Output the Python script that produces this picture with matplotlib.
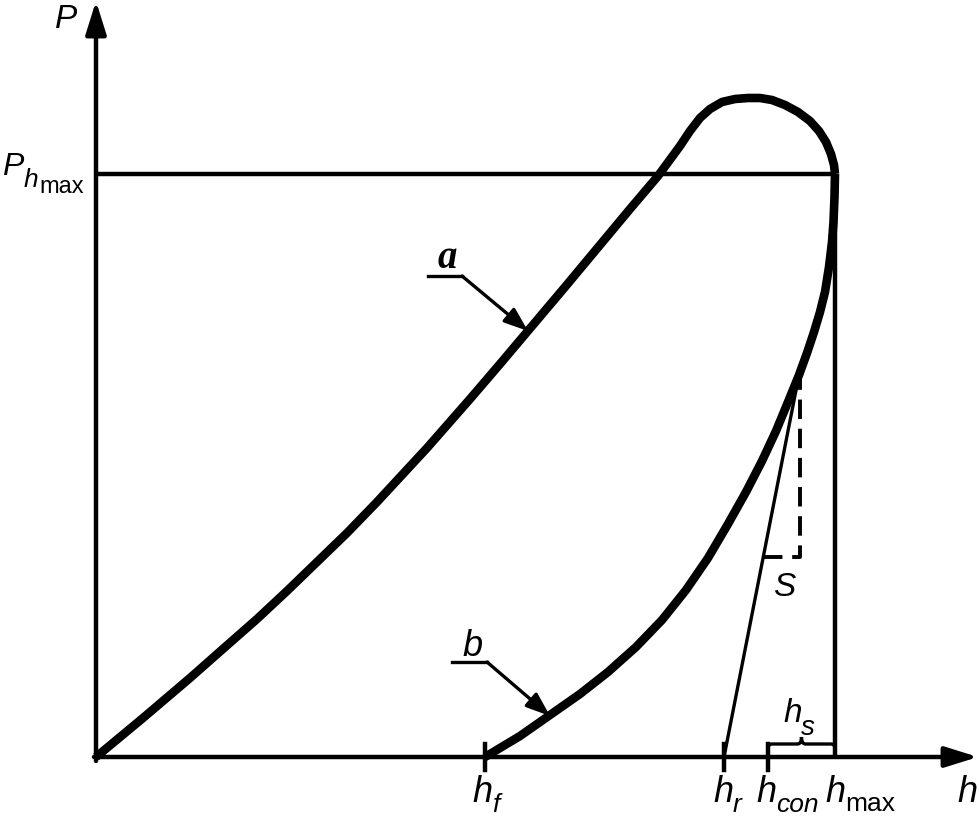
import numpy as np
import matplotlib.pyplot as plt
from matplotlib.path import Path
from matplotlib.patches import PathPatch

plt.rcParams['font.family'] = 'Liberation Sans'

## key depths and load
h_f = 389
h_r = 628
h_con = 672
h_max = 739
P_hmax = 583

## loading curve a (h, P)
load_h = [0, 47, 94, 128, 161, 191, 221, 251, 281, 306, 331, 374, 404, 431,
          469, 504, 534, 562, 584, 594, 604, 614, 626, 639, 652, 664, 676,
          689, 702, 714, 723, 730, 735, 738, 739]
load_P = [0, 39, 79, 109, 138, 166, 195, 224, 255, 282, 309, 358, 393, 425,
          470, 512, 548, 581, 611, 626, 639, 648, 655, 658, 659, 659, 657,
          652, 645, 636, 626, 615, 603, 592, 583]

## unloading curve b (h, P)
unload_h = [739, 738.5, 737.5, 736, 733, 729, 724, 718, 711, 703, 692, 680,
            666, 650, 632, 612, 590, 566, 540, 512, 484, 454, 424, 389]
unload_P = [583, 560, 535, 515, 490, 465, 445, 425, 404, 382, 355, 326,
            296, 265, 233, 199, 167, 137, 110, 85, 63, 42, 21, 0]

## contact stiffness S: tangent from h_r to the touching point
S_touch_h = 703
S_touch_P = 382
S_step_P = 200

fig = plt.figure(figsize=(9.8, 8.2), dpi=100)
ax = fig.add_axes([0, 0, 1, 1])
ax.set_xlim(-96, 884)
ax.set_ylim(-62, 758)
ax.axis('off')

k = 'black'
head = dict(arrowstyle='-|>,head_length=0.8,head_width=0.25',
            mutation_scale=25, lw=3.2, color=k, shrinkA=0, shrinkB=0)

# axes with arrows
ax.annotate('', xy=(0, 756), xytext=(0, -4), arrowprops=head)
ax.annotate('', xy=(882, 0), xytext=(-2, 0), arrowprops=head)

# P_hmax and h_max guide lines
ax.plot([0, h_max], [P_hmax, P_hmax], color=k, lw=3.2, solid_capstyle='butt')
ax.plot([h_max, h_max], [0, P_hmax], color=k, lw=3.2, solid_capstyle='butt')

# curves
ax.plot(load_h, load_P, color=k, lw=6.2, solid_capstyle='butt', solid_joinstyle='round')
ax.plot(unload_h, unload_P, color=k, lw=6.2, solid_capstyle='butt', solid_joinstyle='round')

# tangent line and stiffness triangle
slope = (S_touch_h - h_r) / S_touch_P
ax.plot([h_r, S_touch_h], [0, S_touch_P], color=k, lw=2.4)
S_left = h_r + S_step_P * slope
S_right = S_touch_h + 1
ax.plot([S_left, S_right, S_right], [S_step_P, S_step_P, S_touch_P], color=k,
        lw=2.8, dashes=(5, 2.5))
ax.text(677, 162, 'S', fontsize=24, style='italic', ha='left', va='baseline')

# ticks on h axis
for xv in [h_f, h_r, h_con]:
    ax.plot([xv, xv], [-13, 13], color=k, lw=3.2)

# brace for h_s
b0, b1 = h_con, h_max
bm = (b0 + b1) / 2
verts = [(b0, 8), (b0, 13), (b0 + 4, 13), (bm - 4, 13), (bm, 13), (bm, 20),
         (bm, 13), (bm + 4, 13), (b1 - 4, 13), (b1, 13), (b1, 8)]
codes = [Path.MOVETO, Path.CURVE3, Path.CURVE3, Path.LINETO, Path.CURVE3, Path.CURVE3,
         Path.CURVE3, Path.CURVE3, Path.LINETO, Path.CURVE3, Path.CURVE3]
ax.add_patch(PathPatch(Path(verts, codes), fill=False, lw=2.4, color=k))


def label(x, y, main, sub, dx, dy, size=26, sub_size=19, sub_style='italic'):
    ax.text(x, y, main, fontsize=size, style='italic', ha='left', va='baseline')
    ax.text(x + dx, y + dy, sub, fontsize=sub_size, style=sub_style,
            ha='left', va='baseline')


label(h_f - 13, -44, 'h', 'f', 20, -10)
label(h_r - 11, -44, 'h', 'r', 20, -10)
label(h_con - 12, -44, 'h', 'con', 20, -10)
label(h_max - 10, -44, 'h', 'max', 20, -9, sub_style='normal')
ax.text(861, -44, 'h', fontsize=26, style='italic', ha='left', va='baseline')
label(687, 36, 'h', 's', 18, -13, size=24, sub_size=20)

ax.text(-41, 730, 'P', fontsize=24, style='italic', ha='left', va='baseline')
ax.text(-94, P_hmax, 'P', fontsize=23, style='italic', ha='left', va='baseline')
ax.text(-72, P_hmax - 12, 'h', fontsize=19, style='italic', ha='left', va='baseline')
ax.text(-57, P_hmax - 18, 'max', fontsize=17, ha='left', va='baseline')

# callouts a and b
lead = dict(arrowstyle='-|>,head_length=0.8,head_width=0.3',
            mutation_scale=18, lw=2.4, color=k, shrinkA=0, shrinkB=0)
ax.plot([332, 366], [481, 481], color=k, lw=2.4)
ax.annotate('', xy=(432, 426), xytext=(366, 481), arrowprops=lead)
ax.text(342, 490, 'a', fontsize=28, family='Liberation Serif', style='italic',
        weight='bold', ha='left', va='baseline')
ax.plot([356, 391], [95, 95], color=k, lw=2.4)
ax.annotate('', xy=(454, 41), xytext=(391, 95), arrowprops=lead)
ax.text(366, 102, 'b', fontsize=26, style='italic', ha='left', va='baseline')

fig.savefig('out.png', dpi=100)
